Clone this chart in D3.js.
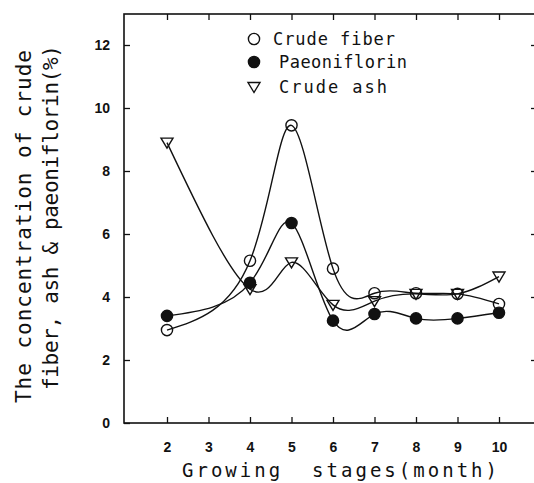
<!DOCTYPE html>
<html>
  <head>
    <script src="https://cdn.jsdelivr.net/npm/d3@7"></script>
    <style>
      body { margin: 0; background: #fff; }
      text { fill: #111; }
    </style>
  </head>
  <body>
    <div id="chart"></div>

    <script>
      // ========= Data ========= //
      const months = [2, 4, 5, 6, 7, 8, 9, 10];
      const crudeFiber = [2.95, 5.15, 9.45, 4.9, 4.12, 4.12, 4.1, 3.78];
      const paeoniflorin = [3.4, 4.45, 6.35, 3.25, 3.46, 3.32, 3.32, 3.5];
      const crudeAsh = [8.9, 4.25, 5.1, 3.75, 3.87, 4.1, 4.1, 4.65];
      const xTicks = [2, 3, 4, 5, 6, 7, 8, 9, 10];
      const yTicks = [0, 2, 4, 6, 8, 10, 12];

      const target = '#chart';

      // ========= Setup dimensions ========= //
      const width = 534;
      const height = 483;
      const frame = { left: 124, right: 537, top: 14, bottom: 423 };

      const svg = d3.select(target).append('svg')
        .attr('width', width)
        .attr('height', height);

      // ========= Scales ========= //
      const x = d3.scaleLinear().domain([2, 10]).range([167, 499]);
      const y = d3.scaleLinear().domain([0, 12]).range([423, 45]);

      // ========= Frame ========= //
      svg.append('rect')
        .attr('x', frame.left)
        .attr('y', frame.top)
        .attr('width', frame.right - frame.left)
        .attr('height', frame.bottom - frame.top)
        .attr('fill', 'none')
        .attr('stroke', '#111')
        .attr('stroke-width', 1.6);

      // ========= Axes ========= //
      const axisStyle = g => {
        g.select('.domain').remove();
        g.selectAll('line').attr('stroke', '#111').attr('stroke-width', 1.3);
        g.selectAll('text')
          .attr('font-family', '"Liberation Sans", Arial, sans-serif')
          .attr('font-weight', 'bold')
          .attr('font-size', 14)
          .attr('fill', '#111');
      };

      svg.append('g')
        .attr('transform', `translate(${frame.left},0)`)
        .call(d3.axisLeft(y).tickValues(yTicks).tickSizeInner(-6).tickSizeOuter(0).tickPadding(14))
        .call(axisStyle);

      svg.append('g')
        .attr('transform', `translate(${frame.right},0)`)
        .call(d3.axisRight(y).tickValues(yTicks.slice(1)).tickSizeInner(-6).tickSizeOuter(0).tickFormat(''))
        .call(axisStyle);

      svg.append('g')
        .attr('transform', `translate(0,${frame.bottom})`)
        .call(d3.axisBottom(x).tickValues(xTicks).tickSizeInner(-6).tickSizeOuter(0).tickPadding(19))
        .call(axisStyle);

      svg.append('g')
        .attr('transform', `translate(0,${frame.top})`)
        .call(d3.axisTop(x).tickValues(xTicks).tickSizeInner(-6).tickSizeOuter(0).tickFormat(''))
        .call(axisStyle);

      // ========= Axis titles ========= //
      svg.append('text')
        .attr('x', 182)
        .attr('y', 477)
        .attr('font-family', '"DejaVu Sans Mono", monospace')
        .attr('font-size', 19)
        .attr('textLength', 315)
        .attr('lengthAdjust', 'spacing')
        .attr('xml:space', 'preserve')
        .text('Growing  stages(month)');

      const yTitle = svg.append('g')
        .attr('font-family', '"DejaVu Sans Mono", monospace')
        .attr('font-size', 21);

      yTitle.append('text')
        .attr('transform', 'translate(31,403) rotate(-90)')
        .attr('textLength', 353)
        .attr('lengthAdjust', 'spacing')
        .text('The concentration of crude');

      yTitle.append('text')
        .attr('transform', 'translate(58,390) rotate(-90)')
        .attr('textLength', 345)
        .attr('lengthAdjust', 'spacing')
        .text('fiber, ash & paeoniflorin(%)');

      // ========= Lines ========= //
      const series = [
        { name: 'Crude fiber', values: crudeFiber, marker: 'open' },
        { name: 'Paeoniflorin', values: paeoniflorin, marker: 'filled' },
        { name: 'Crude ash', values: crudeAsh, marker: 'triangle' }
      ];

      const line = d3.line()
        .x(d => x(d[0]))
        .y(d => y(d[1]))
        .curve(d3.curveNatural);

      series.forEach(s => {
        svg.append('path')
          .datum(months.map((m, i) => [m, s.values[i]]))
          .attr('d', line)
          .attr('fill', 'none')
          .attr('stroke', '#111')
          .attr('stroke-width', 1.4);
      });

      // ========= Markers ========= //
      const triangle = 'M-6,-4.5L6,-4.5L0,5.5Z';

      function drawMarker(g, kind) {
        if (kind === 'triangle') {
          g.append('path').attr('d', triangle)
            .attr('fill', 'none').attr('stroke', '#111').attr('stroke-width', 1.4);
        } else {
          g.append('circle').attr('r', 5.6)
            .attr('fill', kind === 'filled' ? '#111' : 'none')
            .attr('stroke', '#111').attr('stroke-width', 1.4);
        }
      }

      series.forEach(s => {
        months.forEach((m, i) => {
          const g = svg.append('g')
            .attr('transform', `translate(${x(m)},${y(s.values[i])})`);
          drawMarker(g, s.marker);
        });
      });

      // ========= Legend ========= //
      const legendItems = [
        { label: 'Crude fiber', marker: 'open', my: 39, tx: 273, len: 122 },
        { label: 'Paeoniflorin', marker: 'filled', my: 62, tx: 279, len: 128 },
        { label: 'Crude ash', marker: 'triangle', my: 87, tx: 279, len: 108 }
      ];

      legendItems.forEach(d => {
        const g = svg.append('g').attr('transform', `translate(254,${d.my})`);
        drawMarker(g, d.marker);
        svg.append('text')
          .attr('x', d.tx)
          .attr('y', d.my + 5.5)
          .attr('font-family', '"DejaVu Sans Mono", monospace')
          .attr('font-size', 17)
          .attr('textLength', d.len)
          .attr('lengthAdjust', 'spacing')
          .text(d.label);
      });
    </script>
  </body>
</html>
